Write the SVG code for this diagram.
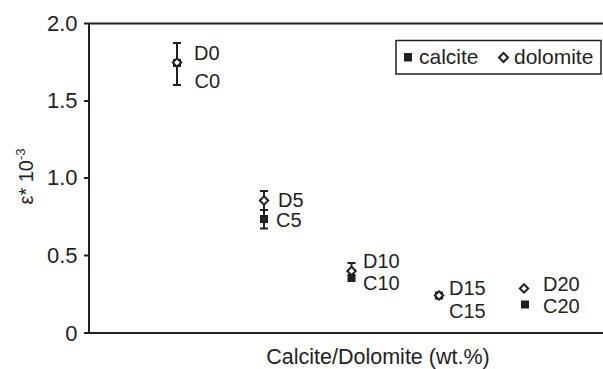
<svg xmlns="http://www.w3.org/2000/svg" width="603" height="369" viewBox="0 0 603 369">
<style>
  text { font-family: "Liberation Sans", Arial, sans-serif; fill: #231f20; }
  .tick { font-size: 22px; text-anchor: end; }
  .lab { font-size: 20px; }
  .leg { font-size: 21px; }
  .title { font-size: 21.5px; text-anchor: middle; }
  .ax { stroke: #231f20; stroke-width: 2; fill: none; }
  .err { stroke: #231f20; stroke-width: 2; fill: none; }
  .sq { fill: #231f20; }
  .dia { fill: #ffffff; stroke: #231f20; stroke-width: 2; }
</style>
<defs>
  <rect id="sqm" x="-4" y="-4" width="8" height="8" class="sq"/>
  <path id="diam" d="M0,-4.2 L4.2,0 L0,4.2 L-4.2,0 Z" class="dia"/>
</defs>
<rect width="603" height="369" fill="#ffffff"/>

<g id="axes">
  <line class="ax" x1="89" y1="23.5" x2="89" y2="333"/>
  <line class="ax" x1="84" y1="333" x2="603" y2="333"/>
  <line class="ax" x1="89" y1="23.5" x2="603" y2="23.5"/>
  <line class="ax" x1="84" y1="23.5" x2="89" y2="23.5"/>
  <line class="ax" x1="84" y1="101" x2="89" y2="101"/>
  <line class="ax" x1="84" y1="178" x2="89" y2="178"/>
  <line class="ax" x1="84" y1="255.5" x2="89" y2="255.5"/>
</g>

<g id="tick-labels">
  <text class="tick" x="77.5" y="30.5">2.0</text>
  <text class="tick" x="77.5" y="108">1.5</text>
  <text class="tick" x="77.5" y="185">1.0</text>
  <text class="tick" x="77.5" y="262.5">0.5</text>
  <text class="tick" x="77.5" y="340.5">0</text>
</g>

<g id="axis-titles">
  <text class="title" x="378" y="364">Calcite/Dolomite (wt.%)</text>
  <text font-size="20" text-anchor="middle" transform="translate(33,176.5) rotate(-90)">ε* 10<tspan font-size="13" dy="-8">-3</tspan></text>
</g>

<g id="connectors">
  <path class="err" d="M177,43 V85 M173,43 H181 M173,85 H181"/>
  <path class="err" d="M264,191 V228.5 M260,191 H268 M260,210 H268 M260,228.5 H268"/>
  <path class="err" d="M351.5,263 V282 M347.5,263 H355.5"/>
</g>

<g id="point-0">
  <use href="#sqm" x="177" y="63"/>
  <use href="#diam" x="177" y="62.5"/>
  <text class="lab" x="194" y="60">D0</text>
  <text class="lab" x="194.5" y="87.5">C0</text>
</g>

<g id="point-5">
  <use href="#sqm" x="264" y="219"/>
  <use href="#diam" x="264" y="200.5"/>
  <text class="lab" x="278" y="206.5">D5</text>
  <text class="lab" x="276" y="227">C5</text>
</g>

<g id="point-10">
  <use href="#sqm" x="351.5" y="278"/>
  <use href="#diam" x="351.5" y="271"/>
  <text class="lab" x="363" y="268">D10</text>
  <text class="lab" x="363" y="290">C10</text>
</g>

<g id="point-15">
  <use href="#sqm" x="439" y="295.5"/>
  <use href="#diam" x="439" y="295.5"/>
  <text class="lab" x="449" y="294.5">D15</text>
  <text class="lab" x="449" y="317.5">C15</text>
</g>

<g id="point-20">
  <use href="#sqm" x="525" y="304.5"/>
  <use href="#diam" x="524" y="288.5"/>
  <text class="lab" x="543" y="291">D20</text>
  <text class="lab" x="543" y="312.5">C20</text>
</g>

<g id="legend">
  <rect x="396" y="40.5" width="205" height="33.5" fill="#ffffff" stroke="#231f20" stroke-width="1.5"/>
  <rect x="404" y="53" width="8" height="8.5" class="sq"/>
  <text class="leg" x="419" y="63.5">calcite</text>
  <path d="M503.5,53 L508,57.5 L503.5,62 L499,57.5 Z" class="dia"/>
  <text class="leg" x="514" y="63.5">dolomite</text>
</g>
</svg>
